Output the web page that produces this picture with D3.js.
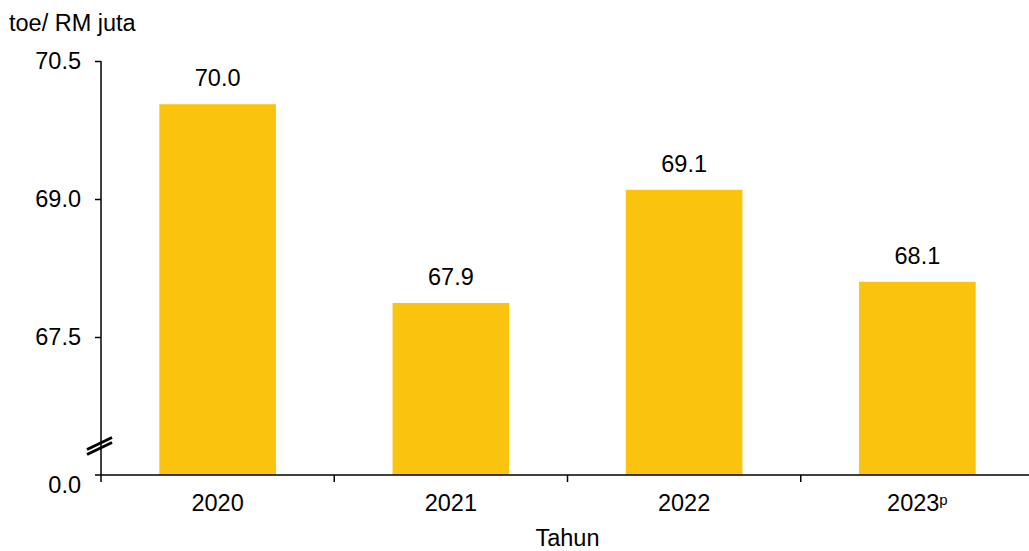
<!DOCTYPE html>
<html><head><meta charset="utf-8">
<script src="https://cdn.jsdelivr.net/npm/d3@7"></script>
<style>
body{margin:0;background:#fff;}
text{font-family:"Liberation Sans",Arial,sans-serif;fill:#000;}
</style></head>
<body><svg id="c" width="1029" height="551"></svg>
<script>
const years = ["2020","2021","2022","2023"];
const yearSup = ["","","","p"];
const values = [70.03, 67.87, 69.10, 68.10];
const valueLabels = ["70.0","67.9","69.1","68.1"];
const yTicks = [67.5, 69.0, 70.5];
const yAxisTitle = "toe/ RM juta";
const xAxisTitle = "Tahun";
const yBreakLabel = "0.0";

(function(){
const svg = d3.select("#c");
const mLeft = 101, mBottom = 475, mTop = 61, mRight = 1034;
const y = d3.scaleLinear().domain([66, 70.5]).range([mBottom, mTop]);
const x = d3.scaleBand().domain(years).range([mLeft, mRight]).paddingInner(0.5).paddingOuter(0.25);
const step = x.step();
const fs = 23.5;

// bars
svg.selectAll("rect.bar").data(values).enter().append("rect")
  .attr("x", (d,i)=>x(years[i])).attr("width", x.bandwidth())
  .attr("y", d=>y(d)).attr("height", d=>mBottom - y(d))
  .attr("fill", "#F9C30E");

// value labels
svg.selectAll("text.val").data(values).enter().append("text")
  .attr("x", (d,i)=>x(years[i]) + x.bandwidth()/2)
  .attr("y", d=>y(d) - 18)
  .attr("text-anchor","middle").attr("font-size", fs)
  .text((d,i)=>valueLabels[i]);

// y axis
const yAxis = d3.axisLeft(y).tickValues(yTicks).tickFormat(d3.format(".1f")).tickSize(6).tickPadding(14);
const gy = svg.append("g").attr("transform", `translate(${mLeft},0)`).call(yAxis);
gy.select(".domain").remove();
gy.selectAll(".tick line").attr("stroke","#000").attr("stroke-width",1.5);
gy.selectAll(".tick text").attr("font-size", fs).attr("font-family","Liberation Sans, Arial, sans-serif").attr("fill","#000");
svg.append("line").attr("x1",mLeft).attr("x2",mLeft).attr("y1",y(70.5)).attr("y2",mBottom)
  .attr("stroke","#000").attr("stroke-width",1.5);
// bottom "0.0"
svg.append("text").attr("x", mLeft - 20).attr("y", mBottom + 10).attr("dy","0.35em")
  .attr("text-anchor","end").attr("font-size", fs).text(yBreakLabel);

// break marks
const by = 446;
[-2.5, 2.5].forEach(o=>{
  svg.append("line").attr("x1",mLeft-14).attr("y1",by+o+6).attr("x2",mLeft+11).attr("y2",by+o-6)
    .attr("stroke","#000").attr("stroke-width",3);
});

// x axis
svg.append("line").attr("x1",mLeft-6).attr("x2",1029).attr("y1",mBottom).attr("y2",mBottom)
  .attr("stroke","#000").attr("stroke-width",1.5);
const bounds = years.map(d=>x(d) - step*0.25);
svg.selectAll("line.xt").data(bounds).enter().append("line")
  .attr("x1",d=>d).attr("x2",d=>d).attr("y1",mBottom).attr("y2",mBottom+7)
  .attr("stroke","#000").attr("stroke-width",1.5);
years.forEach((yr,i)=>{
  const t = svg.append("text").attr("x", x(yr)+x.bandwidth()/2).attr("y", 511)
    .attr("text-anchor","middle").attr("font-size", fs);
  t.append("tspan").text(yr);
  if (yearSup[i]) t.append("tspan").attr("font-size",15).attr("dy",-6).text(yearSup[i]);
});

// titles
svg.append("text").attr("x",9).attr("y",31).attr("font-size",fs).text(yAxisTitle);
svg.append("text").attr("x", (mLeft+mRight)/2).attr("y",546).attr("text-anchor","middle").attr("font-size",fs).text(xAxisTitle);
})();
</script></body></html>
